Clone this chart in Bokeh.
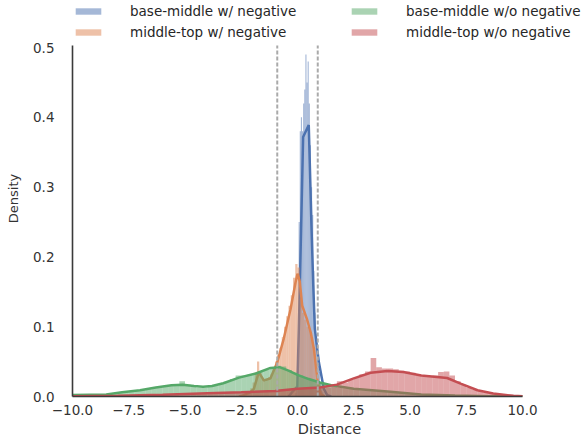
import numpy as np
from bokeh.plotting import figure
from bokeh.models import Legend, LegendItem, FixedTicker
from bokeh.embed import file_html
from bokeh.resources import INLINE

# ---------------- data ----------------
series_labels = ["base-middle w/ negative", "middle-top w/ negative",
                 "base-middle w/o negative", "middle-top w/o negative"]
series_colors = ["#4C72B0", "#DD8452", "#55A868", "#C44E52"]

# histograms: first bin start, bin width, densities
blue_hist_start = -0.1
blue_hist_width = 0.05
blue_hist = [0.005, 0.01, 0.04, 0.25, 0.38, 0.40, 0.38, 0.42, 0.44, 0.49, 0.45, 0.48, 0.42,
             0.36, 0.30, 0.26, 0.18, 0.12, 0.09, 0.07, 0.05, 0.035, 0.02, 0.01, 0.006, 0.003]

orange_hist_start = -2.5
orange_hist_width = 0.1
orange_hist = [0.002, 0.004, 0.006, 0.008, 0.012, 0.02, 0.035, 0.05, 0.035, 0.025,
               0.022, 0.024, 0.028, 0.032, 0.04, 0.05, 0.06, 0.07, 0.085, 0.10,
               0.115, 0.13, 0.145, 0.17, 0.19, 0.185, 0.14, 0.12, 0.11, 0.10,
               0.095, 0.085, 0.07, 0.04, 0.02, 0.008]

green_hist_start = -9.0
green_hist_width = 0.25
green_hist = [0.003, 0.003, 0.004, 0.005, 0.006, 0.007, 0.008, 0.009, 0.010, 0.011, 0.013, 0.014,
              0.015, 0.016, 0.018, 0.022,
              0.017, 0.014, 0.013, 0.013, 0.014, 0.016, 0.018, 0.021, 0.025, 0.030, 0.030, 0.031,
              0.033, 0.036, 0.038, 0.042,
              0.044, 0.043, 0.038, 0.034, 0.030, 0.027, 0.024, 0.021, 0.019, 0.017, 0.015, 0.013,
              0.012, 0.011, 0.010, 0.009,
              0.008, 0.008, 0.007, 0.007, 0.006, 0.006, 0.005, 0.005, 0.004, 0.004, 0.003, 0.003,
              0.003, 0.002, 0.002, 0.002]

red_hist_start = -6.0
red_hist_width = 0.25
red_hist = [0.002, 0.002, 0.003, 0.003, 0.003, 0.004, 0.004, 0.004, 0.005, 0.005, 0.005, 0.006,
            0.006, 0.006, 0.006, 0.007, 0.007, 0.007, 0.008, 0.008, 0.009, 0.009, 0.010, 0.010,
            0.011, 0.011, 0.012, 0.012, 0.013, 0.013, 0.014,
            0.022, 0.020, 0.024, 0.028, 0.032, 0.036, 0.055, 0.042, 0.040, 0.040, 0.039, 0.037,
            0.036, 0.034, 0.031, 0.029, 0.028, 0.030, 0.035, 0.036, 0.030, 0.022, 0.017, 0.013,
            0.010, 0.008, 0.006, 0.005, 0.004, 0.003, 0.002, 0.0015, 0.001]

# KDE curves
blue_kde_x = [-0.4, -0.16, -0.01, 0.06, 0.16, 0.25, 0.50, 0.55, 0.62, 0.70, 0.77, 0.95, 1.17, 1.32, 1.5]
blue_kde_y = [0.0, 0.009, 0.014, 0.097, 0.24, 0.372, 0.389, 0.33, 0.245, 0.16, 0.097, 0.049, 0.011, 0.002, 0.0]

orange_kde_x = [-2.6, -2.39, -2.1, -1.94, -1.72, -1.5, -1.2, -0.9, -0.61, -0.31, -0.09, 0.0, 0.1,
                0.21, 0.43, 0.6, 0.73, 0.9, 1.02, 1.2]
orange_kde_y = [0.0, 0.002, 0.006, 0.011, 0.035, 0.023, 0.026, 0.049, 0.083, 0.125, 0.163, 0.176, 0.165,
                0.13, 0.11, 0.09, 0.068, 0.021, 0.004, 0.0]

green_kde_x = [-10, -8.5, -7.8, -7.0, -6.3, -5.6, -5.1, -4.6, -4.2, -3.8, -3.3, -2.6, -1.85, -1.2,
               -0.8, -0.4, 0.0, 0.5, 1.0, 1.5, 2.5, 4.0, 5.5, 7.0, 8.5, 10]
green_kde_y = [0.002, 0.003, 0.006, 0.009, 0.013, 0.016, 0.017, 0.015, 0.014, 0.015, 0.019, 0.027,
               0.033, 0.041, 0.042, 0.037, 0.031, 0.025, 0.020, 0.016, 0.011, 0.007, 0.003, 0.0015,
               0.0005, 0.0]

red_kde_x = [-10, -8, -6, -4, -2.5, -1, 0, 1, 1.75, 2.5, 3.25, 4.0, 4.7, 5.5, 6.2, 6.65, 7.25, 8.0,
             8.7, 9.6, 10]
red_kde_y = [0.0003, 0.001, 0.0025, 0.0045, 0.006, 0.008, 0.011, 0.013, 0.017, 0.026, 0.034, 0.0366,
             0.035, 0.030, 0.028, 0.0265, 0.0185, 0.009, 0.0043, 0.001, 0.0003]

threshold_lines = [-0.9, 0.9]

x_ticks = [-10.0, -7.5, -5.0, -2.5, 0.0, 2.5, 5.0, 7.5, 10.0]
x_tick_labels = ["\u221210.0", "\u22127.5", "\u22125.0", "\u22122.5", "0.0", "2.5", "5.0", "7.5", "10.0"]
x_axis_min, x_axis_max = -10.0, 10.0
y_ticks = [0.0, 0.1, 0.2, 0.3, 0.4, 0.5]
y_tick_labels = ["0.0", "0.1", "0.2", "0.3", "0.4", "0.5"]
y_axis_top = 0.503

# ---------------- figure ----------------
W, H = 586, 440
BORDER_LEFT, BORDER_BOTTOM = 72, 44
LEGEND_PX = 45            # room at the top of the frame for the legend
RIGHT_PX = 64             # room right of x=10 (legend text runs into it)
frame_h = H - BORDER_BOTTOM
frame_w = W - BORDER_LEFT
y_end = y_axis_top * frame_h / (frame_h - LEGEND_PX)
x_end = x_axis_min + (x_axis_max - x_axis_min) * frame_w / (frame_w - RIGHT_PX)

p = figure(width=W, height=H, x_range=(x_axis_min, x_end), y_range=(0, y_end),
           output_backend="svg", toolbar_location=None,
           min_border_left=BORDER_LEFT, min_border_right=0,
           min_border_top=0, min_border_bottom=BORDER_BOTTOM)
p.outline_line_color = None
p.xgrid.visible = False
p.ygrid.visible = False
p.background_fill_color = "white"
p.border_fill_color = "white"

hists = [(blue_hist_start, blue_hist_width, blue_hist),
         (orange_hist_start, orange_hist_width, orange_hist),
         (green_hist_start, green_hist_width, green_hist),
         (red_hist_start, red_hist_width, red_hist)]
kdes = [(blue_kde_x, blue_kde_y), (orange_kde_x, orange_kde_y),
        (green_kde_x, green_kde_y), (red_kde_x, red_kde_y)]

hist_renderers = []
for (start, width, vals), (kx, ky), color in zip(hists, kdes, series_colors):
    n = len(vals)
    left = start + width * np.arange(n)
    r = p.quad(left=left, right=left + width, bottom=0, top=vals,
               fill_color=color, fill_alpha=0.5, line_color=None)
    hist_renderers.append(r)
    p.line(kx, ky, line_color=color, line_width=2.5)

p.segment(x0=threshold_lines, y0=0, x1=threshold_lines, y1=y_axis_top,
          line_color="#aaaaaa", line_width=2, line_dash="4 2")

# axes
for ax in (p.xaxis, p.yaxis):
    ax.major_tick_out = 0
    ax.major_tick_in = 0
    ax.minor_tick_out = 0
    ax.minor_tick_in = 0
    ax.axis_line_color = "#3a3a3a"
    ax.axis_line_width = 1.6
    ax.major_label_text_font = "DejaVu Sans"
    ax.major_label_text_font_size = "13.5px"
    ax.major_label_text_color = "#333333"
    ax.axis_label_text_font = "DejaVu Sans"
    ax.axis_label_text_font_style = "normal"
    ax.axis_label_text_color = "#333333"

p.xaxis.ticker = FixedTicker(ticks=x_ticks)
p.xaxis.major_label_overrides = dict(zip(x_ticks, x_tick_labels))
p.xaxis.bounds = (x_axis_min, x_axis_max)
p.xaxis.major_label_standoff = 8
p.xaxis.axis_label = "Distance"
p.xaxis.axis_label_text_font_size = "14.5px"
p.xaxis.axis_label_standoff = 3

p.yaxis.ticker = FixedTicker(ticks=y_ticks)
p.yaxis.major_label_overrides = dict(zip(y_ticks, y_tick_labels))
p.yaxis.bounds = (0, y_axis_top)
p.yaxis.major_label_standoff = 18
p.yaxis.axis_label = "Density"
p.yaxis.axis_label_text_font_size = "13px"
p.yaxis.axis_label_standoff = 9

legend = Legend(items=[LegendItem(label=lab, renderers=[r])
                       for lab, r in zip(series_labels, hist_renderers)],
                location="top_left", orientation="vertical", ncols=2,
                glyph_width=32, glyph_height=8, label_standoff=26, label_width=218,
                label_height=21, spacing=0, padding=0, margin=0,
                border_line_color=None, background_fill_alpha=0,
                label_text_font="DejaVu Sans", label_text_font_size="13.5px",
                label_text_color="#262626")
p.add_layout(legend, "center")

open("out.html", "w").write(file_html(p, INLINE))
